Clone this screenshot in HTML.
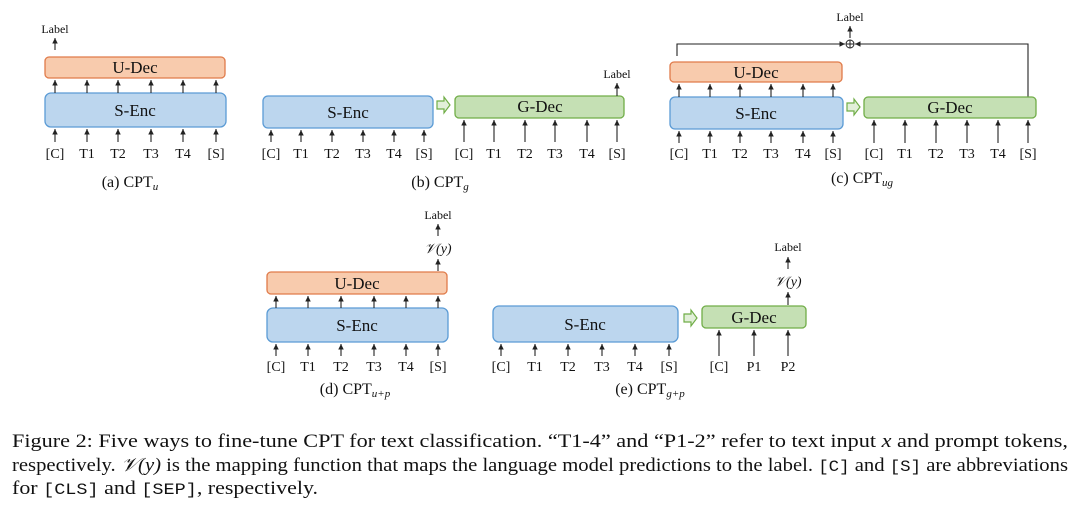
<!DOCTYPE html>
<html><head><meta charset="utf-8"><style>
body{margin:0;background:#fff}
svg{display:block}
text{font-family:"Liberation Serif",serif;fill:#111}
.t{font-size:14px;text-anchor:middle}
.b{font-size:17px;text-anchor:middle}
.s{font-size:12px;text-anchor:middle}
.cap{font-size:16px;text-anchor:middle}
.blue{fill:#bcd6ee;stroke:#5b9bd5;stroke-width:1.3}
.org{fill:#f8cbad;stroke:#e07b4a;stroke-width:1.3}
.grn{fill:#c5e0b4;stroke:#70ad47;stroke-width:1.3}
.ar{stroke:#222;stroke-width:1.1;marker-end:url(#ah)}
.f{font-size:19px}
</style></head><body>
<svg width="1080" height="507" viewBox="0 0 1080 507">
<defs><marker id="ah" markerWidth="6" markerHeight="6" refX="5" refY="3" orient="auto"><path d="M0,0.5 L5,3 L0,5.5 z" fill="#222"/></marker>
<g id="ga"><path d="M0,-4 h7 v-4 l6,8 l-6,8 v-4 h-7 z" fill="#e2efd9" stroke="#70ad47" stroke-width="1.2"/></g></defs>

<!-- (a) -->
<text x="55" y="33" class="s">Label</text>
<line x1="55" y1="50" x2="55" y2="38" class="ar"/>
<rect x="45" y="57" width="180" height="21" rx="4" class="org"/>
<text x="135" y="73" class="b">U-Dec</text>
<rect x="45" y="93" width="181" height="34" rx="6" class="blue"/>
<text x="135" y="116" class="b">S-Enc</text>
<g>
<line x1="55" y1="93" x2="55" y2="80" class="ar"/><line x1="87" y1="93" x2="87" y2="80" class="ar"/><line x1="118" y1="93" x2="118" y2="80" class="ar"/><line x1="151" y1="93" x2="151" y2="80" class="ar"/><line x1="183" y1="93" x2="183" y2="80" class="ar"/><line x1="216" y1="93" x2="216" y2="80" class="ar"/>
<line x1="55" y1="142" x2="55" y2="129" class="ar"/><line x1="87" y1="142" x2="87" y2="129" class="ar"/><line x1="118" y1="142" x2="118" y2="129" class="ar"/><line x1="151" y1="142" x2="151" y2="129" class="ar"/><line x1="183" y1="142" x2="183" y2="129" class="ar"/><line x1="216" y1="142" x2="216" y2="129" class="ar"/>
</g>
<text y="158" class="t"><tspan x="55">[C]</tspan><tspan x="87">T1</tspan><tspan x="118">T2</tspan><tspan x="151">T3</tspan><tspan x="183">T4</tspan><tspan x="216">[S]</tspan></text>
<text x="130" y="187" class="cap">(a) CPT<tspan font-style="italic" font-size="11" dy="3">u</tspan></text>

<!-- (b) -->
<rect x="263" y="96" width="170" height="32" rx="5" class="blue"/>
<text x="348" y="118" class="b">S-Enc</text>
<use href="#ga" x="437" y="105"/>
<rect x="455" y="96" width="169" height="22" rx="4" class="grn"/>
<text x="540" y="112" class="b">G-Dec</text>
<text x="617" y="78" class="s">Label</text>
<line x1="617" y1="96" x2="617" y2="83" class="ar"/>
<g>
<line x1="271" y1="142" x2="271" y2="130" class="ar"/><line x1="301" y1="142" x2="301" y2="130" class="ar"/><line x1="332" y1="142" x2="332" y2="130" class="ar"/><line x1="363" y1="142" x2="363" y2="130" class="ar"/><line x1="394" y1="142" x2="394" y2="130" class="ar"/><line x1="424" y1="142" x2="424" y2="130" class="ar"/>
<line x1="464" y1="142" x2="464" y2="120" class="ar"/><line x1="494" y1="142" x2="494" y2="120" class="ar"/><line x1="525" y1="142" x2="525" y2="120" class="ar"/><line x1="555" y1="142" x2="555" y2="120" class="ar"/><line x1="587" y1="142" x2="587" y2="120" class="ar"/><line x1="617" y1="142" x2="617" y2="120" class="ar"/>
</g>
<text y="158" class="t"><tspan x="271">[C]</tspan><tspan x="301">T1</tspan><tspan x="332">T2</tspan><tspan x="363">T3</tspan><tspan x="394">T4</tspan><tspan x="424">[S]</tspan><tspan x="464">[C]</tspan><tspan x="494">T1</tspan><tspan x="525">T2</tspan><tspan x="555">T3</tspan><tspan x="587">T4</tspan><tspan x="617">[S]</tspan></text>
<text x="440" y="187" class="cap">(b) CPT<tspan font-style="italic" font-size="11" dy="3">g</tspan></text>

<!-- (c) -->
<text x="850" y="21" class="s">Label</text>
<line x1="850" y1="38" x2="850" y2="26" class="ar"/>
<circle cx="850" cy="44" r="4" fill="none" stroke="#222" stroke-width="1"/>
<path d="M846,44 h8 M850,40 v8" stroke="#222" stroke-width="1"/>
<path d="M677,56 V44 H845" fill="none" stroke="#222" stroke-width="1.1" marker-end="url(#ah)"/>
<path d="M1028,97 V44 H855" fill="none" stroke="#222" stroke-width="1.1" marker-end="url(#ah)"/>
<rect x="670" y="62" width="172" height="20" rx="4" class="org"/>
<text x="756" y="78" class="b">U-Dec</text>
<rect x="670" y="97" width="173" height="32" rx="5" class="blue"/>
<text x="756" y="119" class="b">S-Enc</text>
<use href="#ga" x="847" y="107"/>
<rect x="864" y="97" width="172" height="21" rx="4" class="grn"/>
<text x="950" y="113" class="b">G-Dec</text>
<g>
<line x1="679" y1="97" x2="679" y2="84" class="ar"/><line x1="710" y1="97" x2="710" y2="84" class="ar"/><line x1="740" y1="97" x2="740" y2="84" class="ar"/><line x1="771" y1="97" x2="771" y2="84" class="ar"/><line x1="803" y1="97" x2="803" y2="84" class="ar"/><line x1="833" y1="97" x2="833" y2="84" class="ar"/>
<line x1="679" y1="143" x2="679" y2="131" class="ar"/><line x1="710" y1="143" x2="710" y2="131" class="ar"/><line x1="740" y1="143" x2="740" y2="131" class="ar"/><line x1="771" y1="143" x2="771" y2="131" class="ar"/><line x1="803" y1="143" x2="803" y2="131" class="ar"/><line x1="833" y1="143" x2="833" y2="131" class="ar"/>
<line x1="874" y1="143" x2="874" y2="120" class="ar"/><line x1="905" y1="143" x2="905" y2="120" class="ar"/><line x1="936" y1="143" x2="936" y2="120" class="ar"/><line x1="967" y1="143" x2="967" y2="120" class="ar"/><line x1="998" y1="143" x2="998" y2="120" class="ar"/><line x1="1028" y1="143" x2="1028" y2="120" class="ar"/>
</g>
<text y="158" class="t"><tspan x="679">[C]</tspan><tspan x="710">T1</tspan><tspan x="740">T2</tspan><tspan x="771">T3</tspan><tspan x="803">T4</tspan><tspan x="833">[S]</tspan><tspan x="874">[C]</tspan><tspan x="905">T1</tspan><tspan x="936">T2</tspan><tspan x="967">T3</tspan><tspan x="998">T4</tspan><tspan x="1028">[S]</tspan></text>
<text x="862" y="183" class="cap">(c) CPT<tspan font-style="italic" font-size="11" dy="3">ug</tspan></text>

<!-- (d) -->
<text x="438" y="219" class="s">Label</text>
<line x1="438" y1="236" x2="438" y2="224" class="ar"/>
<text x="438" y="253" class="t" font-style="italic">𝒱(y)</text>
<line x1="438" y1="271" x2="438" y2="259" class="ar"/>
<rect x="267" y="272" width="180" height="22" rx="4" class="org"/>
<text x="357" y="289" class="b">U-Dec</text>
<rect x="267" y="308" width="181" height="34" rx="6" class="blue"/>
<text x="357" y="331" class="b">S-Enc</text>
<g>
<line x1="276" y1="308" x2="276" y2="296" class="ar"/><line x1="308" y1="308" x2="308" y2="296" class="ar"/><line x1="341" y1="308" x2="341" y2="296" class="ar"/><line x1="374" y1="308" x2="374" y2="296" class="ar"/><line x1="406" y1="308" x2="406" y2="296" class="ar"/><line x1="438" y1="308" x2="438" y2="296" class="ar"/>
<line x1="276" y1="356" x2="276" y2="344" class="ar"/><line x1="308" y1="356" x2="308" y2="344" class="ar"/><line x1="341" y1="356" x2="341" y2="344" class="ar"/><line x1="374" y1="356" x2="374" y2="344" class="ar"/><line x1="406" y1="356" x2="406" y2="344" class="ar"/><line x1="438" y1="356" x2="438" y2="344" class="ar"/>
</g>
<text y="371" class="t"><tspan x="276">[C]</tspan><tspan x="308">T1</tspan><tspan x="341">T2</tspan><tspan x="374">T3</tspan><tspan x="406">T4</tspan><tspan x="438">[S]</tspan></text>
<text x="355" y="394" class="cap">(d) CPT<tspan font-style="italic" font-size="11" dy="3">u+p</tspan></text>

<!-- (e) -->
<rect x="493" y="306" width="185" height="36" rx="6" class="blue"/>
<text x="585" y="330" class="b">S-Enc</text>
<use href="#ga" x="684" y="318"/>
<rect x="702" y="306" width="104" height="22" rx="4" class="grn"/>
<text x="754" y="323" class="b">G-Dec</text>
<text x="788" y="251" class="s">Label</text>
<line x1="788" y1="269" x2="788" y2="257" class="ar"/>
<text x="788" y="286" class="t" font-style="italic">𝒱(y)</text>
<line x1="788" y1="305" x2="788" y2="292" class="ar"/>
<g>
<line x1="501" y1="356" x2="501" y2="344" class="ar"/><line x1="535" y1="356" x2="535" y2="344" class="ar"/><line x1="568" y1="356" x2="568" y2="344" class="ar"/><line x1="602" y1="356" x2="602" y2="344" class="ar"/><line x1="635" y1="356" x2="635" y2="344" class="ar"/><line x1="669" y1="356" x2="669" y2="344" class="ar"/>
<line x1="719" y1="356" x2="719" y2="330" class="ar"/><line x1="754" y1="356" x2="754" y2="330" class="ar"/><line x1="788" y1="356" x2="788" y2="330" class="ar"/>
</g>
<text y="371" class="t"><tspan x="501">[C]</tspan><tspan x="535">T1</tspan><tspan x="568">T2</tspan><tspan x="602">T3</tspan><tspan x="635">T4</tspan><tspan x="669">[S]</tspan><tspan x="719">[C]</tspan><tspan x="754">P1</tspan><tspan x="788">P2</tspan></text>
<text x="650" y="394" class="cap">(e) CPT<tspan font-style="italic" font-size="11" dy="3">g+p</tspan></text>

<!-- caption -->
<text x="12" y="447" class="f" textLength="1056" lengthAdjust="spacingAndGlyphs">Figure 2: Five ways to fine-tune CPT for text classification. “T1-4” and “P1-2” refer to text input <tspan font-style="italic">x</tspan> and prompt tokens,</text>
<text x="12" y="471" class="f" textLength="1056" lengthAdjust="spacingAndGlyphs">respectively. <tspan font-style="italic">𝒱(y)</tspan> is the mapping function that maps the language model predictions to the label. <tspan font-family="Liberation Mono" font-size="16">[C]</tspan> and <tspan font-family="Liberation Mono" font-size="16">[S]</tspan> are abbreviations</text>
<text x="12" y="494" class="f" textLength="306" lengthAdjust="spacingAndGlyphs">for <tspan font-family="Liberation Mono" font-size="16">[CLS]</tspan> and <tspan font-family="Liberation Mono" font-size="16">[SEP]</tspan>, respectively.</text>
</svg>
</body></html>
